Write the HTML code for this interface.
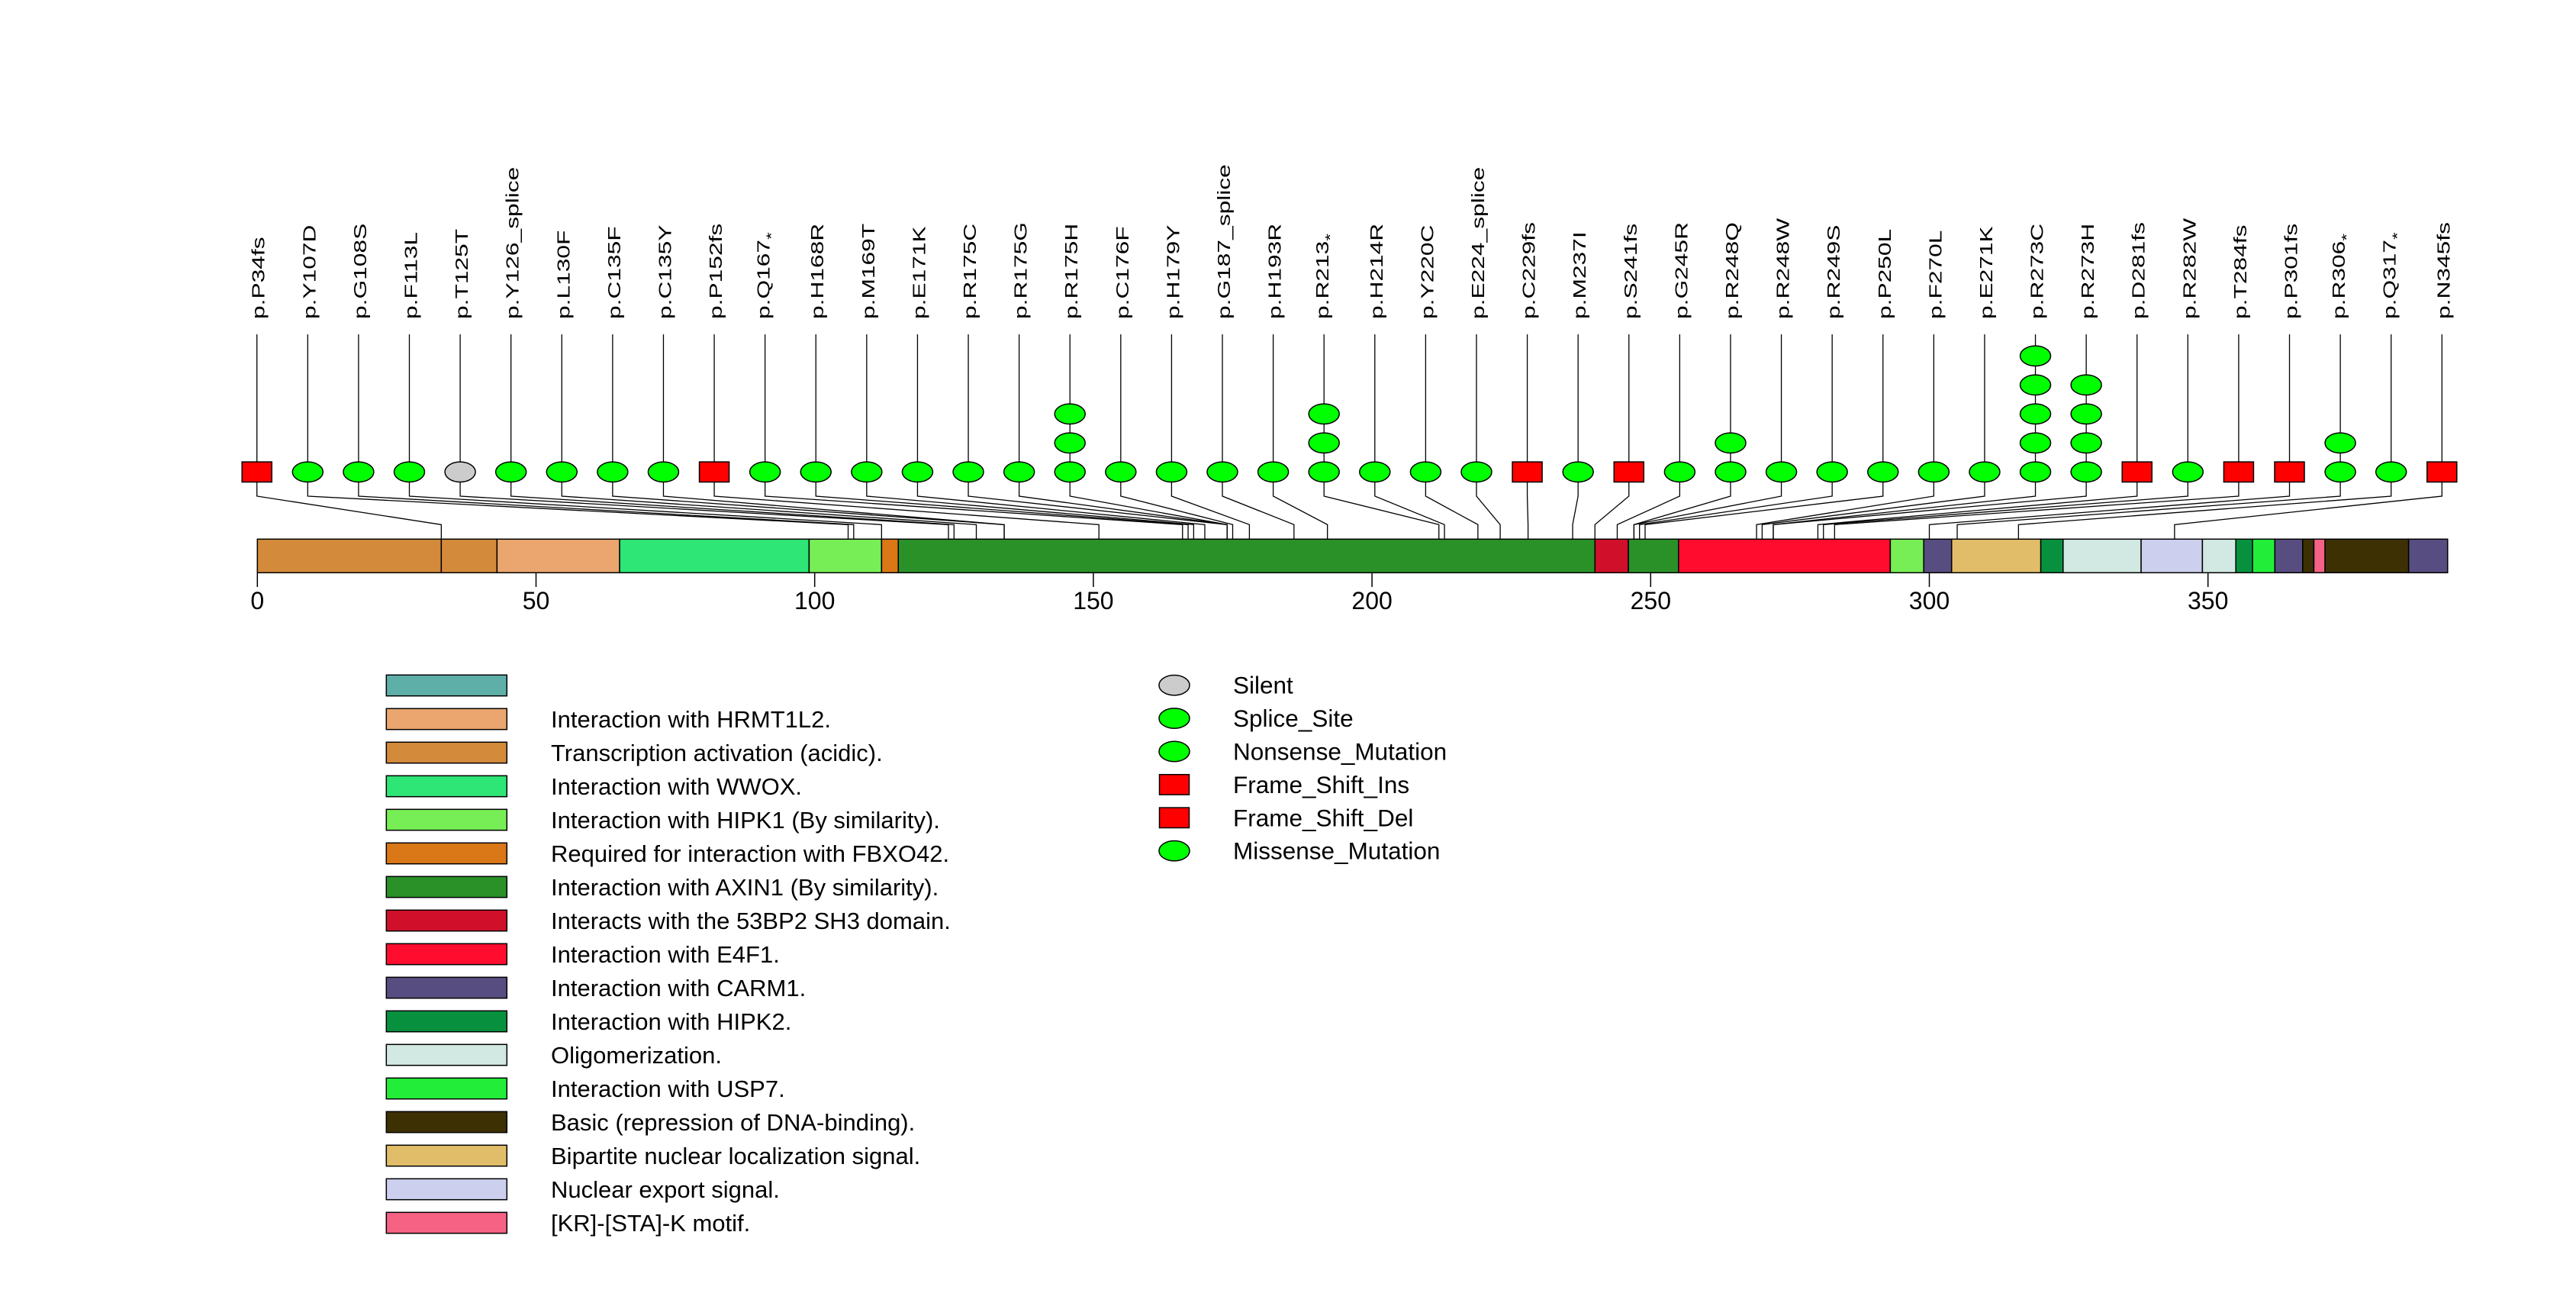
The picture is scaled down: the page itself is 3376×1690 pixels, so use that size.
<!DOCTYPE html>
<html><head><meta charset="utf-8"><style>
html,body{margin:0;padding:0;background:#fff;}
svg{display:block;font-family:"Liberation Sans",Arial,sans-serif;}
</style></head><body>
<svg id="chart" width="3376" height="1690" viewBox="0 0 3376 1690" xmlns="http://www.w3.org/2000/svg">
<g id="conn"></g>
<g id="bar"></g>
<g id="axis"></g>
<g id="marks"></g>
<g id="labels"></g>
<g id="legend1"></g>
<g id="legend2"></g>
</svg>
<script>
const mutLabels = ["p.P34fs","p.Y107D","p.G108S","p.F113L","p.T125T","p.Y126_splice","p.L130F","p.C135F","p.C135Y","p.P152fs","p.Q167*","p.H168R","p.M169T","p.E171K","p.R175C","p.R175G","p.R175H","p.C176F","p.H179Y","p.G187_splice","p.H193R","p.R213*","p.H214R","p.Y220C","p.E224_splice","p.C229fs","p.M237I","p.S241fs","p.G245R","p.R248Q","p.R248W","p.R249S","p.P250L","p.F270L","p.E271K","p.R273C","p.R273H","p.D281fs","p.R282W","p.T284fs","p.P301fs","p.R306*","p.Q317*","p.N345fs"];
const mutPos = [34,107,108,113,125,126,130,135,135,152,167,168,169,171,175,175,175,176,179,187,193,213,214,220,224,229,237,241,245,248,248,249,250,270,271,273,273,281,282,284,301,306,317,345];
const mutCounts = [1,1,1,1,1,1,1,1,1,1,1,1,1,1,1,1,3,1,1,1,1,3,1,1,1,1,1,1,1,2,1,1,1,1,1,5,4,1,1,1,1,2,1,1];
const mutTypes = ["fs","mis","mis","mis","silent","splice","mis","mis","mis","fs","non","mis","mis","mis","mis","mis","mis","mis","mis","splice","mis","non","mis","mis","splice","fs","mis","fs","mis","mis","mis","mis","mis","mis","mis","mis","mis","fs","mis","fs","fs","non","non","fs"];
const domStart = [0,33,43,65,99,112,115,240,246,255,293,299,304,320,324,338,349,355,358,362,367,369,371,386];
const domEnd   = [33,43,65,99,112,115,240,246,255,293,299,304,320,324,338,349,355,358,362,367,369,371,386,393];
const domColor = ["#D38A3A","#D38A3A","#EAA66E","#2EE675","#77EE55","#DA7716","#2A9128","#D0102A","#2A9128","#FF0C2E","#77EE55","#574D80","#E2BD69","#07913F","#D2E8E2","#CCD0EE","#D2E8E2","#07913F","#22EE3A","#574D80","#3D3003","#F66284","#3D3003","#574D80"];
const tickVals = [0,50,100,150,200,250,300,350];
const legNames = ["","Interaction with HRMT1L2.","Transcription activation (acidic).","Interaction with WWOX.","Interaction with HIPK1 (By similarity).","Required for interaction with FBXO42.","Interaction with AXIN1 (By similarity).","Interacts with the 53BP2 SH3 domain.","Interaction with E4F1.","Interaction with CARM1.","Interaction with HIPK2.","Oligomerization.","Interaction with USP7.","Basic (repression of DNA-binding).","Bipartite nuclear localization signal.","Nuclear export signal.","[KR]-[STA]-K motif."];
const legColors = ["#5EAFA8","#EAA66E","#D38A3A","#2EE675","#77EE55","#DA7716","#2A9128","#D0102A","#FF0C2E","#574D80","#07913F","#D2E8E2","#22EE3A","#3D3003","#E2BD69","#CCD0EE","#F66284"];
const typeNames = ["Silent","Splice_Site","Nonsense_Mutation","Frame_Shift_Ins","Frame_Shift_Del","Missense_Mutation"];
const typeKeys = ["silent","splice","non","fs","fs","mis"];

const NS="http://www.w3.org/2000/svg";
const X0=337.3, SC=7.304, BARTOP=706.3, BARBOT=750.3;
const MX0=336.7, MSTEP=(3200.3-336.7)/43, MY=618.3, STACK=38;
function ax(a){return X0+a*SC;}
function mk(tag,attrs,parent){const e=document.createElementNS(NS,tag);for(const k in attrs)e.setAttribute(k,attrs[k]);parent.appendChild(e);return e;}
const conn=document.getElementById('conn'),bar=document.getElementById('bar'),axis=document.getElementById('axis'),marks=document.getElementById('marks'),labels=document.getElementById('labels'),leg1=document.getElementById('legend1'),leg2=document.getElementById('legend2');
function fillFor(t){return t==="silent"?"#CCCCCC":(t==="fs"?"#FF0000":"#00FF00");}
function marker(t,cx,cy,parent){
  let e;
  if(t==="fs"){e=mk('rect',{x:cx-19.5,y:cy-13.2,width:39,height:26.4,fill:"#FF0000",stroke:"#000","stroke-width":1.5},parent);}
  else{e=mk('ellipse',{cx:cx,cy:cy,rx:20,ry:13.2,fill:fillFor(t),stroke:"#000","stroke-width":1.5},parent);}
  return e;
}
for(let i=0;i<domStart.length;i++){
  const r=mk('rect',{x:ax(domStart[i]),y:BARTOP,width:ax(domEnd[i])-ax(domStart[i]),height:BARBOT-BARTOP,fill:domColor[i],stroke:"#000","stroke-width":1.5},bar);
  
  
}
tickVals.forEach(v=>{
  const l=mk('line',{x1:ax(v),x2:ax(v),y1:BARBOT,y2:769,stroke:"#000","stroke-width":1.5},axis);
  
  
  const t=mk('text',{x:ax(v),y:798,"font-size":32,"text-anchor":"middle",fill:"#000"},axis);
  t.textContent=v;
  
  
});
for(let i=0;i<mutLabels.length;i++){
  const mx=MX0+i*MSTEP, px=ax(mutPos[i]-1);
  const pl=mk('polyline',{points:`${mx},${MY+13} ${mx},650 ${px},687.3 ${px},${BARBOT}`,fill:"none",stroke:"#000","stroke-width":1.3},conn);
  
  
  const topY=MY-(mutCounts[i]-1)*STACK-13;
  const vl=mk('line',{x1:mx,x2:mx,y1:438,y2:topY,stroke:"#000","stroke-width":1.3},conn);
  
  
  for(let k=0;k<mutCounts[i];k++){
    if(k>0){mk('line',{x1:mx,x2:mx,y1:MY-k*STACK+13,y2:MY-(k-1)*STACK-13,stroke:"#000","stroke-width":1.3},conn);}
    const m=marker(mutTypes[i],mx,MY-k*STACK,marks);
    
    
  }
  const star=mutLabels[i].endsWith('*');
  const base=star?mutLabels[i].slice(0,-1):mutLabels[i];
  const t=mk('text',{transform:`translate(${mx+(star?6:10)},418) rotate(-90) scale(1.38,1)`,"font-size":23,fill:"#000"},labels);
  t.textContent=base;
  if(star){const ts=mk('tspan',{dy:8,"font-size":18},t);ts.textContent="*";}
  
  
}
for(let i=0;i<legNames.length;i++){
  const cy=898+i*44;
  const r=mk('rect',{x:506.3,y:cy-13.7,width:158,height:27.4,fill:legColors[i],stroke:"#000","stroke-width":1.5},leg1);
  
  
  const t=mk('text',{x:722,y:cy+11,"font-size":31,fill:"#000"},leg1);
  t.textContent=legNames[i];
  
  
}
for(let i=0;i<typeNames.length;i++){
  const cy=897.7+i*43.4;
  const m=marker(typeKeys[i],1539,cy,leg2);
  
  
  const t=mk('text',{x:1616,y:cy+11,"font-size":31.5,fill:"#000"},leg2);
  t.textContent=typeNames[i];
  
  
}
</script>
</body></html>
